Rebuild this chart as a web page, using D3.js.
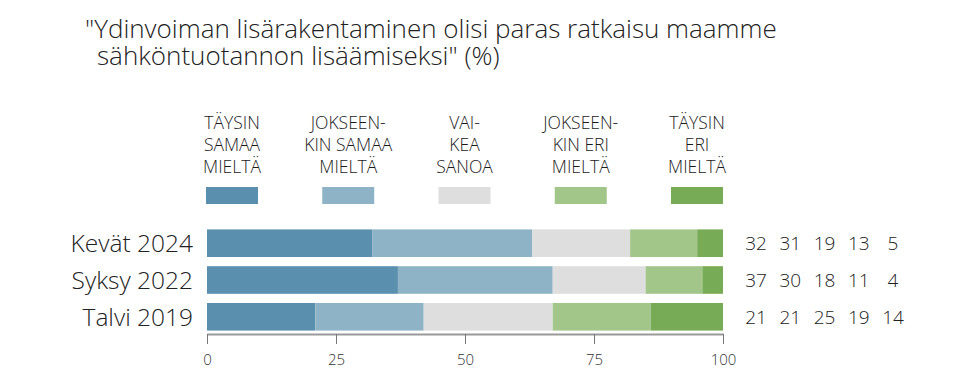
<!DOCTYPE html>
<html>
<head>
<meta charset="utf-8">
<script src="https://cdn.jsdelivr.net/npm/d3@7"></script>
<style>
  html, body { margin: 0; padding: 0; background: #fff; }
  svg { display: block; font-family: "Open Sans", "Noto Sans", sans-serif; }
</style>
</head>
<body>
<svg id="chart"></svg>
<script>
const width = 960, height = 390;

const titleLines = ['"Ydinvoiman lisärakentaminen olisi paras ratkaisu maamme', 'sähköntuotannon lisäämiseksi" (%)'];
const periods = ['Kevät 2024', 'Syksy 2022', 'Talvi 2019'];
const answers = ['TÄYSIN SAMAA MIELTÄ', 'JOKSEEN-KIN SAMAA MIELTÄ', 'VAI-KEA SANOA', 'JOKSEEN-KIN ERI MIELTÄ', 'TÄYSIN ERI MIELTÄ'];
const answerLines = [
    ['TÄYSIN', 'SAMAA', 'MIELTÄ'],
    ['JOKSEEN-', 'KIN SAMAA', 'MIELTÄ'],
    ['VAI-', 'KEA', 'SANOA'],
    ['JOKSEEN-', 'KIN ERI', 'MIELTÄ'],
    ['TÄYSIN', 'ERI', 'MIELTÄ']
];
const kevat2024 = [32, 31, 19, 13, 5];
const syksy2022 = [37, 30, 18, 11, 4];
const talvi2019 = [21, 21, 25, 19, 14];
const colors = ['#5a8fae', '#8fb3c6', '#dedede', '#a2c58a', '#78ab55'];
const xTicks = [0, 25, 50, 75, 100];

const rows = [kevat2024, syksy2022, talvi2019];
const table = periods.map((p, i) => {
    const d = { period: p };
    answers.forEach((a, j) => d[a] = rows[i][j]);
    return d;
});
const stacked = d3.stack().keys(answers)(table);

const svg = d3.select('#chart')
    .attr('width', width)
    .attr('height', height);

const x = d3.scaleLinear().domain([0, 100]).range([207, 723]);
const y = d3.scaleBand().domain(periods).range([225, 335]).paddingInner(0.25).paddingOuter(0.12);
const color = d3.scaleOrdinal().domain(answers).range(colors);

// title, one text block with two lines
svg.append('text')
    .attr('font-size', '26px')
    .attr('font-weight', 300)
    .attr('fill', '#222')
    .selectAll('tspan')
    .data(titleLines)
    .enter()
    .append('tspan')
    .attr('x', (d, i) => i === 0 ? 85 : 97)
    .attr('y', (d, i) => 38 + i * 27)
    .text(d => d);

// legend
const legendX = d3.scalePoint().domain(answers).range([232, 697]);
const legend = svg.append('g').selectAll('g')
    .data(answers)
    .enter()
    .append('g')
    .attr('transform', d => `translate(${legendX(d)},0)`);

legend.append('rect')
    .attr('x', -26)
    .attr('y', 187)
    .attr('width', 52)
    .attr('height', 17)
    .attr('fill', d => color(d));

legend.each(function(d, i) {
    d3.select(this).selectAll('text')
        .data(answerLines[i])
        .enter()
        .append('text')
        .attr('text-anchor', 'middle')
        .attr('y', (t, k) => 129 + k * 22)
        .attr('font-size', '17.5px')
        .attr('font-weight', 300)
        .attr('fill', '#1a1a1a')
        .text(t => t);
});

// bars
svg.append('g').selectAll('g')
    .data(stacked)
    .enter()
    .append('g')
    .attr('fill', d => color(d.key))
    .selectAll('rect')
    .data(d => d)
    .enter()
    .append('rect')
    .attr('x', d => x(d[0]))
    .attr('y', d => y(d.data.period))
    .attr('width', d => x(d[1]) - x(d[0]))
    .attr('height', y.bandwidth());

// category labels
svg.append('g').selectAll('text')
    .data(periods)
    .enter()
    .append('text')
    .attr('x', 193)
    .attr('y', d => y(d) + y.bandwidth() / 2)
    .attr('dy', '0.36em')
    .attr('text-anchor', 'end')
    .attr('font-size', '24.5px')
    .attr('font-weight', 300)
    .attr('fill', '#222')
    .text(d => d);

// value columns
const valueX = d3.scalePoint().domain(answers).range([756, 893]);
svg.append('g').selectAll('g')
    .data(table)
    .enter()
    .append('g')
    .each(function(row) {
        d3.select(this).selectAll('text')
            .data(answers)
            .enter()
            .append('text')
            .attr('x', a => valueX(a))
            .attr('y', y(row.period) + y.bandwidth() / 2)
            .attr('dy', '0.36em')
            .attr('text-anchor', 'middle')
            .attr('font-size', '19px')
            .attr('font-weight', 300)
            .attr('fill', '#222')
            .text(a => row[a]);
    });

// x axis
const axis = svg.append('g')
    .attr('transform', 'translate(0,334)')
    .call(d3.axisBottom(x).tickValues(xTicks).tickSize(10).tickPadding(10).tickSizeOuter(0));
axis.select('.domain').attr('stroke', '#999').attr('stroke-width', 2);
axis.selectAll('.tick line').attr('stroke', '#777');
axis.selectAll('.tick text')
    .attr('font-size', '15px')
    .attr('font-family', '"Open Sans", "Noto Sans", sans-serif')
    .attr('font-weight', 300)
    .attr('fill', '#333');
</script>
</body>
</html>
